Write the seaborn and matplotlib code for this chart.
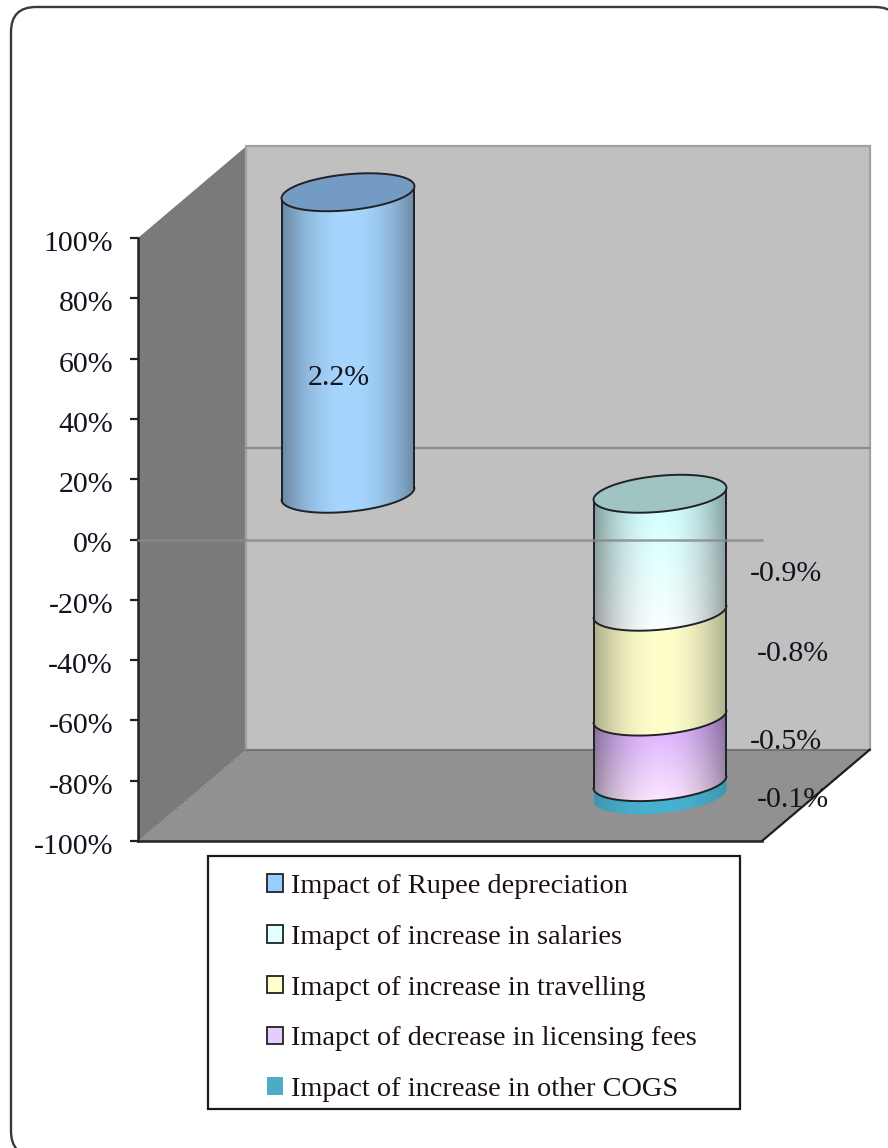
import numpy as np
import pandas as pd
import matplotlib
matplotlib.use("Agg")
import matplotlib.pyplot as plt
from matplotlib.patches import Polygon, Patch, Rectangle, FancyBboxPatch
from matplotlib.transforms import ScaledTranslation
import seaborn as sns

# Contribution of each driver to the margin change, in percentage points
categories = ["Rupee", "Costs"]
segment_names = [
    "Impact of Rupee depreciation",
    "Imapct of increase in salaries",
    "Imapct of increase in travelling",
    "Imapct of decrease in licensing fees",
    "Impact of increase in other COGS",
]
segment_category = ["Rupee", "Costs", "Costs", "Costs", "Costs"]
segment_values = [2.2, -0.9, -0.8, -0.5, -0.1]
value_labels = ["2.2%", "-0.9%", "-0.8%", "-0.5%", "-0.1%"]
tick_values = [100, 80, 60, 40, 20, 0, -20, -40, -60, -80, -100]

# Shading of each cylinder section: colour at its top, colour at its bottom, edge darkening
section_style = [
    ((166, 214, 255), (166, 214, 255), 0.36),
    ((198, 255, 255), (252, 255, 255), 0.38),
    ((255, 255, 204), (255, 255, 204), 0.32),
    ((204, 150, 255), (255, 236, 255), 0.38),
    ((72, 178, 208), (72, 178, 208), 0.16),
]
swatch_colors = ["#99ccff", "#e2ffff", "#ffffcc", "#e6ccff", "#4bacc6"]
cap_colors = {"Rupee": "#739bc3", "Costs": "#a0c4c2"}

W, H = 888, 1148
sns.set_theme(style="white")
plt.rcParams["font.family"] = ["Liberation Serif", "DejaVu Serif"]
TEXT = "#14141f"
FS = 21.5
LEGEND_FS = 20.4

fig = plt.figure(figsize=(W / 100, H / 100), dpi=100, facecolor="white")
ax = fig.add_axes([138 / W, 1 - 841 / H, 624 / W, 603 / H], facecolor="none")


def px(x, y):
    """Figure-fraction position of a pixel location."""
    return x / W, 1 - y / H


# The outer chart border runs past the bottom and right of the canvas
fig.add_artist(FancyBboxPatch(
    (36 / W, 1 - 1131 / H), 839 / W, 1099 / H,
    boxstyle=f"round,pad={25 / W},rounding_size={25 / W}",
    mutation_aspect=W / H, transform=fig.transFigure,
    fc="white", ec="#3a3a3a", lw=1.7, zorder=-5,
))

# Stacked shares: each side of the axis is normalised to 100%
frame = pd.DataFrame({"segment": segment_names, "category": segment_category, "value": segment_values})
frame["share"] = frame["value"] / frame.groupby("category")["value"].transform("sum").abs() * 100
frame["bottom"] = frame.groupby("category")["share"].cumsum() - frame["share"]

rects = []
for _, row in frame.iterrows():
    before = len(ax.patches)
    sns.barplot(data=frame[frame.segment == row.segment], x="category", y="share", order=categories,
                width=0.426, bottom=row.bottom, color="white", legend=False, errorbar=None, ax=ax)
    new = [p for p in ax.patches[before:] if abs(p.get_height()) > 0]
    rects.append(new[0])

ax.set_xlim(-0.5, 1.5)
ax.set_ylim(-100, 100)
ax.set_xticks([])
ax.set_xlabel("")
ax.set_ylabel("")

# Depth of the box in data units
DX, DY = 108 / 312, 91.5 / 3.015
BAR_DX, BAR_DY = DX / 2, DY / 2
ELL_B, ELL_S = 18 / 3.015, 6 / 3.015

x0, x1, y0, y1 = -0.5, 1.5, -100, 100
ax.add_patch(Polygon([(x0, y0), (x0 + DX, y0 + DY), (x0 + DX, y1 + DY), (x0, y1)],
                     fc="#7a7a7a", ec="none", clip_on=False, zorder=1))
ax.add_patch(Polygon([(x0 + DX, y0 + DY), (x1 + DX, y0 + DY), (x1 + DX, y1 + DY), (x0 + DX, y1 + DY)],
                     fc="#c0c0c0", ec="#a2a2a2", lw=1.6, clip_on=False, zorder=1))
ax.add_patch(Polygon([(x0, y0), (x1, y0), (x1 + DX, y0 + DY), (x0 + DX, y0 + DY)],
                     fc="#919191", ec="none", clip_on=False, zorder=1.1))
ax.plot([x0, x0 + DX], [y0, y0 + DY], color="#6a6a6a", lw=0.8, ls=":", clip_on=False, zorder=1.2)
ax.plot([x0 + DX, x1 + DX], [y0 + DY, y0 + DY], color="#6e6e6e", lw=1.2, clip_on=False, zorder=1.2)
ax.plot([x1, x1 + DX], [y0, y0 + DY], color="#1e1e1e", lw=1.6, clip_on=False, zorder=1.3)
# Zero line on the back wall
ax.plot([x0 + DX, x1 + DX], [DY, DY], color="#8c8c8c", lw=1.6, clip_on=False, zorder=1.2)


def ellipse(cx, cy, a, t):
    return cx + a * np.cos(t), cy + ELL_S * np.cos(t) + ELL_B * np.sin(t)


arc_t = np.linspace(np.pi, 2 * np.pi, 80)
z = 3.0
# Lower sections first so each upper section overlaps the one below it
for i in range(len(rects) - 1, -1, -1):
    r = rects[i]
    r.set_visible(False)
    ys = sorted([r.get_y(), r.get_y() + r.get_height()])
    lo, hi = ys[0] + BAR_DY, ys[1] + BAR_DY
    a = r.get_width() / 2
    cx = r.get_x() + a + BAR_DX

    lx, ly = ellipse(cx, lo, a, arc_t)
    ux, uy = ellipse(cx, hi, a, arc_t)
    verts = np.vstack([np.column_stack([lx, ly]), np.column_stack([ux, uy])[::-1], [[lx[0], ly[0]]]])
    clip = Polygon(verts, closed=True, transform=ax.transData)

    top_c, bot_c, k = section_style[i]
    u = np.linspace(-1, 1, 240)
    shade = 1 - k * np.abs(u) ** 2
    v = np.linspace(0, 1, 120)[:, None, None]
    rgb = (np.array(bot_c) * (1 - v) + np.array(top_c) * v) / 255 * shade[None, :, None]
    ext_lo, ext_hi = lo - ELL_B - ELL_S - 1, hi + ELL_B + ELL_S + 1
    im = ax.imshow(np.clip(rgb, 0, 1), extent=(cx - a, cx + a, ext_lo, ext_hi), origin="lower",
                   aspect="auto", zorder=z, interpolation="bilinear")
    im.set_clip_box(fig.bbox)
    im.set_clip_path(clip)

    # The thin bottom section has no outline of its own
    if i != len(rects) - 1:
        edge = dict(color="#202225", lw=1.4, clip_on=False, zorder=z + 0.5)
        ax.plot([lx[0], ux[0]], [ly[0], uy[0]], **edge)
        ax.plot([lx[-1], ux[-1]], [ly[-1], uy[-1]], **edge)
        ax.plot(lx, ly, **edge)

    # The topmost section of each stack shows its end cap
    if i in (0, 1):
        t = np.linspace(0, 2 * np.pi, 160)
        ex, ey = ellipse(cx, hi, a, t)
        ax.add_patch(Polygon(np.column_stack([ex, ey]), fc=cap_colors[segment_category[i]],
                             ec="#202225", lw=1.4, clip_on=False, zorder=z + 0.6))
    z += 1

ax.set_xlim(x0, x1)
ax.set_ylim(y0, y1)

# The zero line of the front plane crosses the walls and the stacked cylinder
ax.axhline(0, color="#8a8a8a", lw=1.8, alpha=0.85, zorder=20, clip_on=False)

ax.set_yticks(tick_values)
ax.set_yticklabels([f"{t}%" for t in tick_values], fontsize=FS, color=TEXT)
ax.tick_params(axis="y", left=True, length=6, width=1.6, color="#222222", pad=12)
nudge = ScaledTranslation(0, -3 / 100, fig.dpi_scale_trans)
for lab in ax.get_yticklabels():
    lab.set_transform(lab.get_transform() + nudge)
sns.despine(ax=ax, top=True, right=True)
for side in ("left", "bottom"):
    ax.spines[side].set_color("#222222")
    ax.spines[side].set_linewidth(1.8)
    ax.spines[side].set_zorder(2)

# Value labels sit beside or on their sections
label_anchor = [(339, 378), (786, 574), (793, 654), (786, 742), (793, 800)]
for text, (lx_, ly_) in zip(value_labels, label_anchor):
    fx, fy = px(lx_, ly_)
    fig.text(fx, fy, text, fontsize=FS, color=TEXT, ha="center", va="center", zorder=30)

# Legend box
fig.add_artist(Rectangle(px(208, 1109), 532 / W, 253 / H, transform=fig.transFigure,
                         fc="white", ec="#1a1a1a", lw=1.6, zorder=-1))
handles = []
for i, (name, col) in enumerate(zip(segment_names, swatch_colors)):
    handles.append(Patch(fc=col, ec="none" if i == 4 else "#222222", lw=1.3, label=name))
leg = ax.legend(handles=handles, loc="upper left", bbox_to_anchor=px(267, 874), bbox_transform=fig.transFigure,
                frameon=False, fontsize=LEGEND_FS, handlelength=0.58, handleheight=0.58, handletextpad=0.26,
                labelspacing=0.91, borderpad=0, borderaxespad=0)
leg.set_zorder(40)
leg.set_clip_on(False)
for t in leg.get_texts():
    t.set_color("#1c1010")

fig.savefig("out.png", dpi=100, facecolor="white")
